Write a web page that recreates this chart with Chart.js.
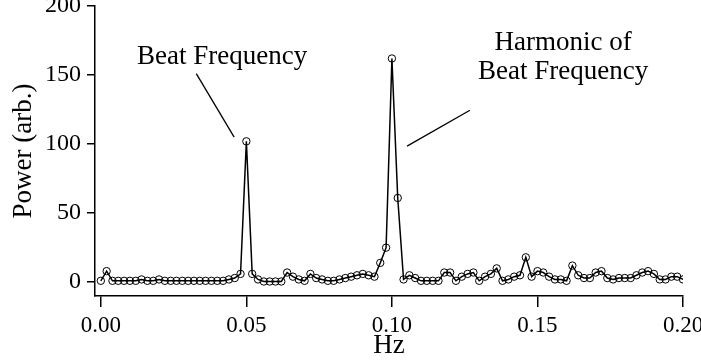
<!DOCTYPE html>
<html>
<head>
<meta charset="utf-8">
<script src="https://cdn.jsdelivr.net/npm/chart.js@4.4.1/dist/chart.umd.min.js"></script>
<style>
  html, body { margin: 0; padding: 0; background: #fff; }
  #myChart { display: block; }
</style>
</head>
<body>
<canvas id="myChart" width="701" height="362"></canvas>
<script>
// frequency bins (Hz)
const freq = [
  0.000, 0.002, 0.004, 0.006, 0.008, 0.010, 0.012, 0.014, 0.016, 0.018,
  0.020, 0.022, 0.024, 0.026, 0.028, 0.030, 0.032, 0.034, 0.036, 0.038,
  0.040, 0.042, 0.044, 0.046, 0.048, 0.050, 0.052, 0.054, 0.056, 0.058,
  0.060, 0.062, 0.064, 0.066, 0.068, 0.070, 0.072, 0.074, 0.076, 0.078,
  0.080, 0.082, 0.084, 0.086, 0.088, 0.090, 0.092, 0.094, 0.096, 0.098,
  0.100, 0.102, 0.104, 0.106, 0.108, 0.110, 0.112, 0.114, 0.116, 0.118,
  0.120, 0.122, 0.124, 0.126, 0.128, 0.130, 0.132, 0.134, 0.136, 0.138,
  0.140, 0.142, 0.144, 0.146, 0.148, 0.150, 0.152, 0.154, 0.156, 0.158,
  0.160, 0.162, 0.164, 0.166, 0.168, 0.170, 0.172, 0.174, 0.176, 0.178,
  0.180, 0.182, 0.184, 0.186, 0.188, 0.190, 0.192, 0.194, 0.196, 0.198,
  0.200
];

// power (arb.)
const power = [
  1, 8, 1, 1, 1, 1, 1, 2, 1, 1, 2, 1, 1, 1, 1, 1, 1, 1, 1, 1, 1, 1, 2, 3, 6, 102,
  6, 2, 0.5, 0.5, 0.5, 0.5, 7, 4, 2, 1, 6, 3, 2, 1, 1, 2, 3, 4, 5, 6, 5, 4, 14, 25, 162, 61, 2,
  5, 3, 1, 1, 1, 1, 7, 7, 1, 4, 6, 7, 1, 4, 6, 10, 1, 2, 4, 5, 18, 4, 8, 7, 4, 2, 2, 1, 12, 5,
  3, 3, 7, 8, 3, 2, 3, 3, 3, 5, 7, 8, 6, 2, 2, 4, 4, 2
];

const xTicks = [0, 0.05, 0.10, 0.15, 0.20];
const yTicks = [0, 50, 100, 150, 200];

// callouts, in data units
const notes = [
  {lines: ['Beat Frequency'], x: 0.0417, y: 163},
  {lines: ['Harmonic of', 'Beat Frequency'], x: 0.1588, y: 173}
];
const pointers = [
  {x1: 0.0328, y1: 151, x2: 0.0458, y2: 105},
  {x1: 0.1052, y1: 98.5, x2: 0.1268, y2: 124.5}
];

const serif = '"Liberation Serif", "DejaVu Serif", serif';

const calloutPlugin = {
  id: 'callouts',
  afterDatasetsDraw(chart) {
    const {ctx, scales: {x, y}} = chart;
    ctx.save();
    ctx.fillStyle = '#000';
    ctx.strokeStyle = '#000';
    ctx.lineWidth = 1.3;
    ctx.font = '27px ' + serif;
    ctx.textAlign = 'center';
    ctx.textBaseline = 'middle';
    for (let n of notes) {
      n.lines.forEach((t, i) => {
        ctx.fillText(t, x.getPixelForValue(n.x), y.getPixelForValue(n.y) + i * 29);
      });
    }
    for (let p of pointers) {
      ctx.beginPath();
      ctx.moveTo(x.getPixelForValue(p.x1), y.getPixelForValue(p.y1));
      ctx.lineTo(x.getPixelForValue(p.x2), y.getPixelForValue(p.y2));
      ctx.stroke();
    }
    ctx.restore();
  }
};

const ctx = document.getElementById('myChart').getContext('2d');
let chart = new Chart(ctx, {
  type: 'line',
  data: {
    datasets: [{
      data: freq.map((f, i) => ({x: f, y: power[i]})),
      borderColor: '#000',
      borderWidth: 1.5,
      pointRadius: 3.7,
      pointBorderWidth: 1,
      pointBorderColor: '#000',
      pointBackgroundColor: 'rgba(0,0,0,0)',
      tension: 0,
    }],
  },
  options: {
    responsive: false,
    animation: false,
    devicePixelRatio: 1,
    layout: {padding: {left: 0, top: 6, right: 18, bottom: 0}},
    plugins: {legend: {display: false}, tooltip: {enabled: false}},
    scales: {
      x: {
        type: 'linear',
        min: -0.002,
        max: 0.2,
        afterBuildTicks: (s) => { s.ticks = xTicks.map(v => ({value: v})); },
        afterFit: (s) => { s.height = 66; s.paddingLeft = 0; s.paddingRight = 0; },
        border: {display: true, color: '#000', width: 1.5},
        grid: {drawOnChartArea: false, drawTicks: true, tickLength: 11, color: '#000', lineWidth: 1.5},
        ticks: {
          color: '#000',
          padding: 5,
          maxRotation: 0,
          font: {family: serif, size: 23},
          callback: (v) => v.toFixed(2),
        },
        title: {display: true, text: 'Hz', color: '#000', font: {family: serif, size: 27}, padding: {top: 0, bottom: 0}},
      },
      y: {
        min: -10,
        max: 200,
        afterBuildTicks: (s) => { s.ticks = yTicks.map(v => ({value: v})); },
        afterFit: (s) => { s.width = 95; s.paddingTop = 0; s.paddingBottom = 0; },
        border: {display: true, color: '#000', width: 1.5},
        grid: {drawOnChartArea: false, drawTicks: true, tickLength: 8, color: '#000', lineWidth: 1.5},
        ticks: {
          color: '#000',
          padding: 6,
          font: {family: serif, size: 24},
        },
        title: {display: true, text: 'Power (arb.)', color: '#000', font: {family: serif, size: 27}, padding: {top: 8, bottom: 0}},
      },
    },
  },
  plugins: [calloutPlugin],
});
</script>
</body>
</html>
